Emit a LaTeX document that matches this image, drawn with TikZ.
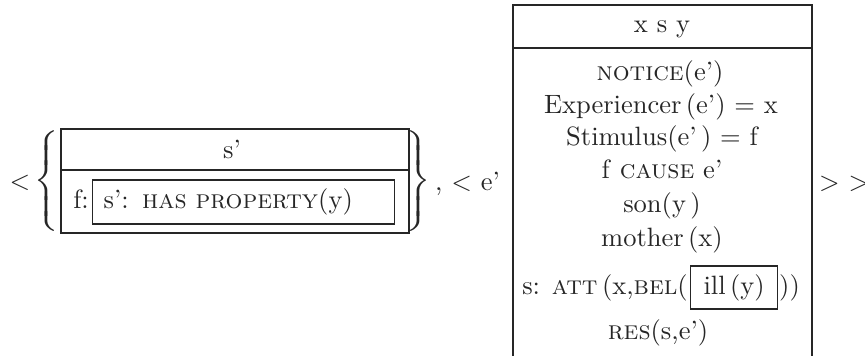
\documentclass[tikz,border=0pt]{standalone}
\usepackage{fontspec}
\usepackage{unicode-math}
\setmainfont{lmroman10-regular.otf}[BoldFont=lmroman10-bold.otf, ItalicFont=lmroman10-italic.otf, SmallCapsFont=lmromancaps10-regular.otf]
\setmathfont{latinmodern-math.otf}
\tikzset{
  txt/.style={inner sep=0pt, text=black!85, font=\fontsize{26.5}{32}\selectfont},
  frame/.style={draw=black!85, line width=1.3pt},
}
\begin{document}
\begin{tikzpicture}[x=1pt,y=-1pt]
\useasboundingbox (0,0) rectangle (865,356);
% left part
\node[txt, anchor=base] (lt) at (20,189) {<};
\node[txt] (lbrace) at (47,181) {$\delimitershortfall=-1pt\left\{\vcenter{\hbox{\rule{0pt}{100pt}}}\right.$};
\node[frame, minimum width=348pt, minimum height=104pt, inner sep=0pt] (lbox) at (235,181) {};
\coordinate (lsep) at (0,170);
\draw[frame] (lbox.west |- lsep) -- (lbox.east |- lsep);
\node[txt, anchor=base] (lhead) at (232,158) {s’};
\node[txt, anchor=base east] (fl) at (89,208) {f:};
\node[frame, txt, anchor=west, minimum width=302pt, minimum height=44pt, text width=280pt, inner xsep=11pt, align=left] (lin) at (92,202) {s’: \textsc{has property}(y)};
\node[txt] (rbrace) at (418,181) {$\delimitershortfall=-1pt\left.\vcenter{\hbox{\rule{0pt}{100pt}}}\right\}$};
\node[txt, anchor=base west] (mid) at (435,190) {, < e’};
% right box
\coordinate (rtl) at (513,5);
\coordinate (rtr) at (812,5);
\coordinate (rbl) at (513,356);
\coordinate (rbr) at (812,356);
\coordinate (rsl) at (513,48);
\coordinate (rsr) at (812,48);
\draw[frame] (rbl) -- (rtl) -- (rtr) -- (rbr);
\draw[frame] (rsl) -- (rsr);
\node[txt, anchor=base] (rhead) at (662,32) {x s y};
\node[txt, anchor=base] (r1) at (660,80) {\textsc{notice}(e’)};
\node[txt, anchor=base] (r2) at (661,113) {Experiencer\,(e’) = x};
\node[txt, anchor=base] (r3) at (662,145) {Stimulus(e’\,) = f};
\node[txt, anchor=base] (r4) at (662,178) {f \textsc{cause} e’};
\node[txt, anchor=base] (r5) at (662,212) {son(y\,)};
\node[txt, anchor=base] (r6) at (662,246) {mother\,(x)};
\node[txt, anchor=base east] (att) at (688,294) {s: \textsc{att}\,(x,\textsc{bel}(};
\node[frame, txt, anchor=west, minimum width=87pt, minimum height=43pt] (ill) at (690,287.5) {ill\,(y)\hspace{5pt}};
\node[txt, anchor=base west] (close) at (779,294) {))};
\node[txt, anchor=base] (r8) at (658,339) {\textsc{res}(s,e’)};
\node[txt, anchor=base west] (gt) at (819,190) {> >};
\end{tikzpicture}
\end{document}
